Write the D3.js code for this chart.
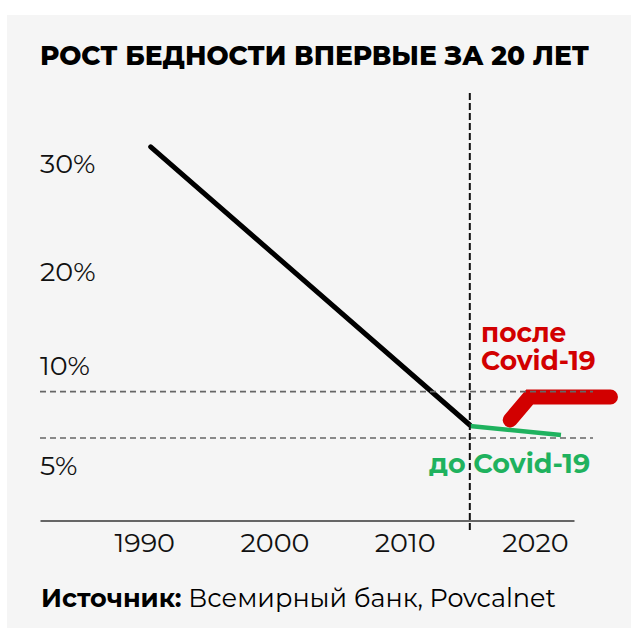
<!DOCTYPE html>
<html>
<head>
<meta charset="utf-8">
<script src="https://cdn.jsdelivr.net/npm/d3@7"></script>
<style>
  body { margin: 0; background: #fff; }
  text { font-family: Montserrat, 'DejaVu Sans', sans-serif; }
</style>
</head>
<body>
<div id="main"></div>
<script>
// data
var title = 'РОСТ БЕДНОСТИ ВПЕРВЫЕ ЗА 20 ЛЕТ'
var year_ticks = [1990, 2000, 2010, 2020]
var pct_ticks = [30, 20, 10, 5]
var trend_years = [1990.5, 2015]
var trend_values = [31.5, 7.0]
var pre_covid_years = [2015, 2022]
var pre_covid_values = [6.95, 6.5]
var post_covid_years = [2018.1, 2019.6, 2025.8]
var post_covid_values = [7.25, 8.4, 8.4]
var ref_levels = [8.67, 6.35]
var split_year = 2015

var w = 631
var h = 628
var svg = d3.select('div#main').append('svg')
  .attr('width', w)
  .attr('height', h)

svg.append('rect')
  .attr('x', 7).attr('y', 15)
  .attr('width', w - 7).attr('height', h - 15)
  .attr('fill', '#f5f5f5')

var x = d3.scaleLinear().domain([1982, 2023]).range([40, 574])
// the picture spaces its % labels unevenly, so the scale is piecewise
var y = d3.scaleLinear().domain([5, 10, 20, 30]).range([465, 365, 271, 163])

svg.append('text')
  .text(title)
  .attr('x', 40).attr('y', 65)
  .attr('textLength', 549)
  .attr('lengthAdjust', 'spacingAndGlyphs')
  .style('font-size', '26.5px')
  .style('font-weight', 800)
  .attr('fill', '#000')

// y labels
pct_ticks.forEach(function (v) {
  svg.append('text')
    .text(v + '%')
    .attr('x', 40)
    .attr('y', y(v))
    .attr('dy', '0.36em')
    .style('font-size', '27px')
    .attr('fill', '#111')
})

// x axis
var xAxis = d3.axisBottom(x)
  .tickValues(year_ticks)
  .tickFormat(d3.format('d'))
  .tickSize(0)
  .tickPadding(12)
svg.append('g')
  .attr('transform', 'translate(0,520.5)')
  .call(xAxis)
  .call(function (g) {
    g.select('.domain').attr('stroke', '#666').attr('stroke-width', 2)
    g.selectAll('text')
      .attr('fill', '#111')
      .style('font-size', '27px')
      .style('font-family', "Montserrat, 'DejaVu Sans', sans-serif")
  })

function pts (xs, ys) {
  return xs.map(function (v, i) { return [x(v), y(ys[i])] })
}
var line = d3.line()

svg.append('path')
  .attr('d', line(pts(trend_years, trend_values)))
  .attr('fill', 'none')
  .attr('stroke', '#000')
  .attr('stroke-width', 5)
  .attr('stroke-linecap', 'round')

svg.append('path')
  .attr('d', line(pts(pre_covid_years, pre_covid_values)))
  .attr('fill', 'none')
  .attr('stroke', '#1fb25e')
  .attr('stroke-width', 4.5)

svg.append('path')
  .attr('d', line(pts(post_covid_years, post_covid_values)))
  .attr('fill', 'none')
  .attr('stroke', '#d20000')
  .attr('stroke-width', 15)
  .attr('stroke-linecap', 'round')
  .attr('stroke-linejoin', 'miter')

// reference dashed lines
ref_levels.forEach(function (v) {
  svg.append('line')
    .attr('x1', 40).attr('x2', 593)
    .attr('y1', y(v)).attr('y2', y(v))
    .attr('stroke', '#666')
    .attr('stroke-width', 1.6)
    .attr('stroke-dasharray', '6,4')
})

svg.append('line')
  .attr('x1', x(split_year)).attr('x2', x(split_year))
  .attr('y1', 93).attr('y2', 531)
  .attr('stroke', '#111')
  .attr('stroke-width', 2)
  .attr('stroke-dasharray', '7,3')

// labels
svg.append('text')
  .text('после')
  .attr('x', 481).attr('y', 342)
  .style('font-size', '26.5px')
  .style('font-weight', 'bold')
  .attr('fill', '#d20000')
svg.append('text')
  .text('Covid-19')
  .attr('x', 481).attr('y', 370)
  .style('font-size', '26.5px')
  .style('font-weight', 'bold')
  .attr('fill', '#d20000')

svg.append('text')
  .text('до Covid-19')
  .attr('x', 429).attr('y', 473)
  .style('font-size', '27px')
  .style('font-weight', 'bold')
  .attr('fill', '#1fb25e')

var src = svg.append('text')
  .attr('x', 41).attr('y', 607)
  .style('font-size', '25.5px')
  .attr('fill', '#000')
src.append('tspan').style('font-weight', 'bold').text('Источник:')
src.append('tspan').text(' Всемирный банк, Povcalnet')
</script>
</body>
</html>
